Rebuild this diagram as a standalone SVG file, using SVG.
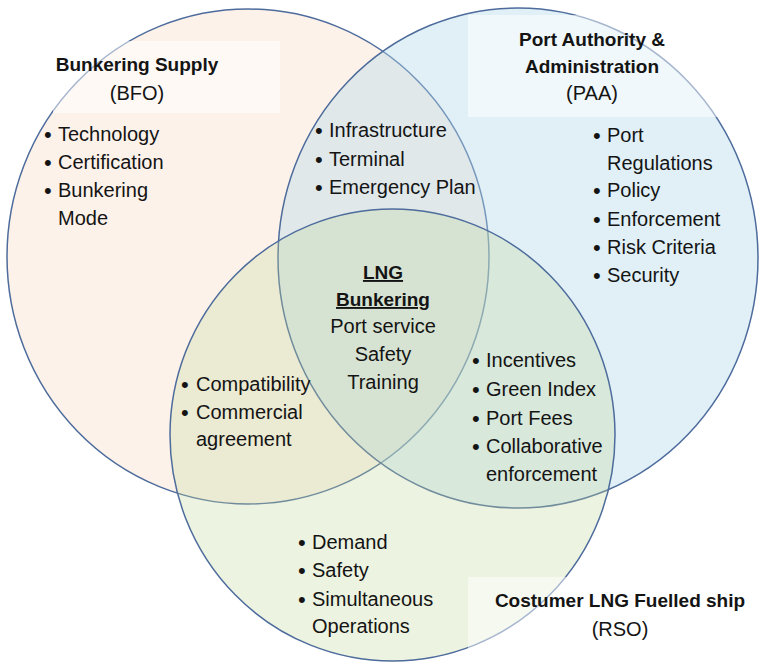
<svg xmlns="http://www.w3.org/2000/svg" width="759" height="662" viewBox="0 0 759 662">
<style>
.c{stroke:#4d6c9c;stroke-width:1.5}
.box{fill:#ffffff;fill-opacity:0.5}
text{font-family:"Liberation Sans",Arial,sans-serif;fill:#141414}
.t{font-size:20px}
.h{font-size:19px;font-weight:bold}
.m{text-anchor:middle}
.b{font-size:22px}
.u{text-decoration:underline}
</style>
<rect width="759" height="662" fill="#ffffff"/>
<g id="circle-bfo"><ellipse class="c" cx="248" cy="256.5" rx="241" ry="247.5" fill="#f9d9c4" fill-opacity="0.35"/></g>
<g id="circle-paa"><ellipse class="c" cx="518" cy="258" rx="240" ry="250" fill="#b3d9ea" fill-opacity="0.4"/></g>
<g id="circle-rso"><ellipse class="c" cx="392.5" cy="435" rx="222.5" ry="226" fill="#c4d79b" fill-opacity="0.3"/></g>
<g id="label-boxes">
<rect class="box" x="53" y="41" width="227" height="72"/>
<rect class="box" x="468" y="15" width="249" height="102"/>
<rect class="box" x="468" y="577" width="291" height="85"/>
</g>
<g id="node-bfo">
<text class="h m" x="137" y="71">Bunkering Supply</text>
<text class="t m" x="137" y="100">(BFO)</text>
<text class="b" x="44" y="142">•</text><text class="t" x="58" y="141">Technology</text>
<text class="b" x="44" y="170">•</text><text class="t" x="58" y="169">Certification</text>
<text class="b" x="44" y="198">•</text><text class="t" x="58" y="197">Bunkering</text>
<text class="t" x="58" y="225">Mode</text>
</g>
<g id="node-paa">
<text class="h m" x="592" y="46">Port Authority &amp;</text>
<text class="h m" x="592" y="73">Administration</text>
<text class="t m" x="592" y="100">(PAA)</text>
<text class="b" x="593" y="143">•</text><text class="t" x="607" y="142">Port</text>
<text class="t" x="607" y="170">Regulations</text>
<text class="b" x="593" y="198">•</text><text class="t" x="607" y="197">Policy</text>
<text class="b" x="593" y="227">•</text><text class="t" x="607" y="226">Enforcement</text>
<text class="b" x="593" y="255">•</text><text class="t" x="607" y="254">Risk Criteria</text>
<text class="b" x="593" y="283">•</text><text class="t" x="607" y="282">Security</text>
</g>
<g id="node-bfo-paa">
<text class="b" x="315" y="138">•</text><text class="t" x="329" y="137">Infrastructure</text>
<text class="b" x="315" y="167">•</text><text class="t" x="329" y="166">Terminal</text>
<text class="b" x="315" y="195">•</text><text class="t" x="329" y="194">Emergency Plan</text>
</g>
<g id="node-center">
<text class="h m u" x="383" y="279">LNG</text>
<text class="h m u" x="383" y="306">Bunkering</text>
<text class="t m" x="383" y="333">Port service</text>
<text class="t m" x="383" y="361">Safety</text>
<text class="t m" x="383" y="389">Training</text>
</g>
<g id="node-bfo-rso">
<text class="b" x="181" y="392">•</text><text class="t" x="196" y="391">Compatibility</text>
<text class="b" x="181" y="420">•</text><text class="t" x="196" y="419">Commercial</text>
<text class="t" x="196" y="446">agreement</text>
</g>
<g id="node-paa-rso">
<text class="b" x="472" y="368">•</text><text class="t" x="486" y="367">Incentives</text>
<text class="b" x="472" y="397">•</text><text class="t" x="486" y="396">Green Index</text>
<text class="b" x="472" y="426">•</text><text class="t" x="486" y="425">Port Fees</text>
<text class="b" x="472" y="454">•</text><text class="t" x="486" y="453">Collaborative</text>
<text class="t" x="486" y="481">enforcement</text>
</g>
<g id="node-rso">
<text class="b" x="298" y="550">•</text><text class="t" x="312" y="549">Demand</text>
<text class="b" x="298" y="578">•</text><text class="t" x="312" y="577">Safety</text>
<text class="b" x="298" y="607">•</text><text class="t" x="312" y="606">Simultaneous</text>
<text class="t" x="312" y="633">Operations</text>
<text class="h m" x="620" y="607">Costumer LNG Fuelled ship</text>
<text class="t m" x="620" y="636">(RSO)</text>
</g>
<g id="connectors"></g>
</svg>
